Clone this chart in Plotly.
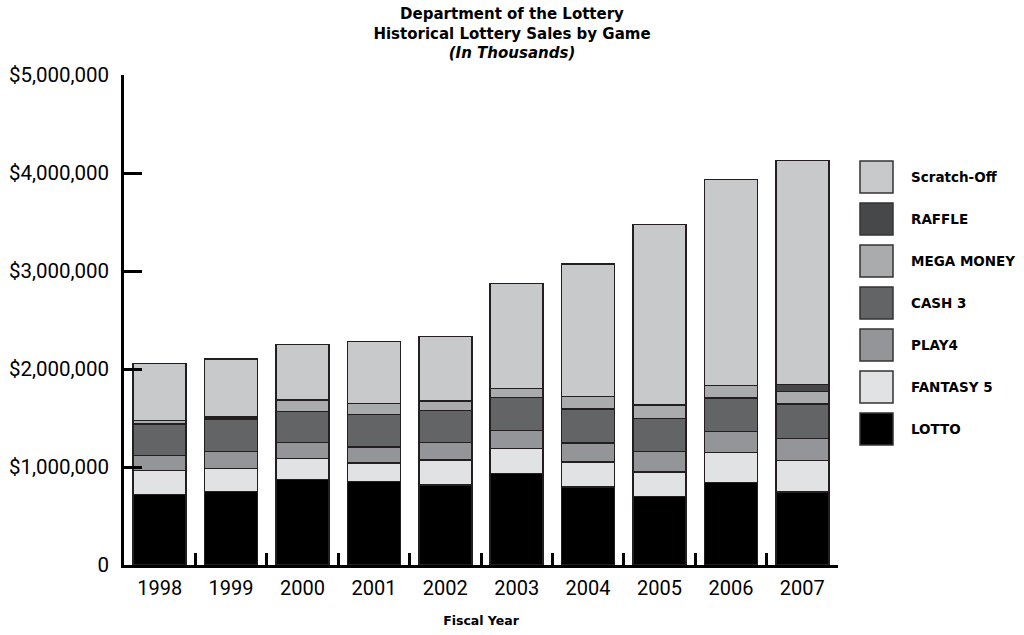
import plotly.graph_objects as go

years = ["1998", "1999", "2000", "2001", "2002", "2003", "2004", "2005", "2006", "2007"]
lotto = [721000, 748000, 874000, 854000, 816000, 936000, 796000, 701000, 844000, 745000]
fantasy5 = [241000, 239000, 211000, 187000, 258000, 255000, 255000, 248000, 302000, 319000]
play4 = [157000, 169000, 163000, 163000, 174000, 179000, 194000, 207000, 214000, 229000]
cash3 = [320000, 334000, 316000, 330000, 331000, 337000, 347000, 341000, 344000, 350000]
mega_money = [34000, 20000, 120000, 112000, 94000, 92000, 125000, 136000, 130000, 125000]
raffle = [0, 0, 0, 0, 0, 0, 0, 0, 0, 76000]
scratch_off = [582000, 592000, 568000, 633000, 661000, 1071000, 1357000, 1839000, 2098000, 2282000]

series_names = ["LOTTO", "FANTASY 5", "PLAY4", "CASH 3", "MEGA MONEY", "RAFFLE", "Scratch-Off"]
series_values = [lotto, fantasy5, play4, cash3, mega_money, raffle, scratch_off]
series_colors = ["#000000", "#e1e2e4", "#939598", "#636466", "#aaabad", "#47484a", "#c8c9cb"]

y_tickvals = [0, 1000000, 2000000, 3000000, 4000000, 5000000]
y_ticktext = ["0", "$1,000,000", "$2,000,000", "$3,000,000", "$4,000,000", "$5,000,000"]

W, H = 1024, 635
L, R, T, B = 124, 186, 75, 70
pw = W - L - R
ph = H - T - B

def px_x(x):
    return (x - L) / pw

def px_y(y):
    return (H - B - y) / ph

fig = go.Figure()
for name, vals, col in zip(series_names, series_values, series_colors):
    fig.add_trace(go.Bar(
        x=years, y=vals, name=name,
        marker=dict(color=col, line=dict(color="#231f20", width=1.5)),
        showlegend=False,
    ))

# custom legend (top entry = last series)
shapes = []
annotations = []
for i, (name, col) in enumerate(zip(series_names[::-1], series_colors[::-1])):
    top = 161 + i * 42
    shapes.append(dict(type="rect", xref="paper", yref="paper",
                       x0=px_x(860), x1=px_x(893), y0=px_y(top + 32), y1=px_y(top),
                       fillcolor=col, line=dict(color="#333333", width=1.5)))
    annotations.append(dict(xref="paper", yref="paper", x=px_x(909), y=px_y(top + 16),
                            text="<b>%s</b>" % name, showarrow=False,
                            xanchor="left", yanchor="middle",
                            font=dict(family="DejaVu Sans", size=13.5, color="#000000")))

fig.update_layout(
    width=W, height=H,
    margin=dict(l=L, r=R, t=T, b=B),
    paper_bgcolor="white", plot_bgcolor="white",
    barmode="stack", bargap=0.258,
    title=dict(
        text="<b>Department of the Lottery<br>Historical Lottery Sales by Game<br><i>(In Thousands)</i></b>",
        xref="container", x=0.5, xanchor="center",
        yref="container", y=1 - 19 / H, yanchor="middle",
        font=dict(family="DejaVu Sans", size=15, color="#000000"),
    ),
    xaxis=dict(
        type="category", showline=True, linecolor="#000000", linewidth=2.5,
        ticks="inside", tickson="boundaries", ticklen=12, tickwidth=2.5, tickcolor="#000000",
        showgrid=False, zeroline=False, automargin=False,
        tickfont=dict(family="Roboto", size=20, color="#000000"),
        ticklabelstandoff=3,
        title=dict(text="<b>Fiscal Year</b>", font=dict(family="DejaVu Sans", size=12.5, color="#000000"),
                   standoff=18),
    ),
    yaxis=dict(
        range=[0, 5000000], showline=True, linecolor="#000000", linewidth=2.5,
        ticks="inside", ticklen=18, tickwidth=2.5, tickcolor="#000000",
        tickvals=y_tickvals, ticktext=y_ticktext,
        showgrid=False, zeroline=False, automargin=False,
        tickfont=dict(family="Roboto", size=20.5, color="#000000"),
        ticklabelstandoff=8,
    ),
    shapes=shapes,
    annotations=annotations,
)

fig.write_html("out.html")
